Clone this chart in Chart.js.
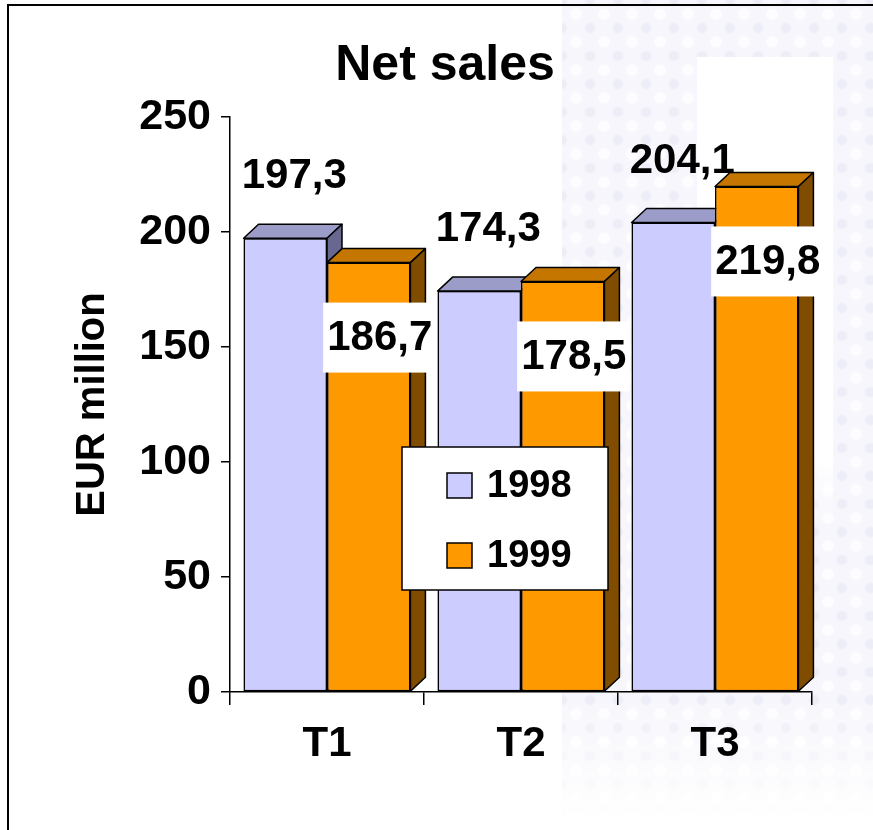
<!DOCTYPE html>
<html>
<head>
<meta charset="utf-8">
<script src="https://cdn.jsdelivr.net/npm/chart.js@4.4.1/dist/chart.umd.min.js"></script>
<style>
  html, body { margin: 0; padding: 0; background: #fff; }
  body { width: 873px; height: 830px; position: relative; overflow: hidden; }
  .pattern {
    position: absolute; left: 562px; top: 0; width: 320px; height: 820px;
    background-color: #f6f6fc;
    background-image: radial-gradient(circle, #fdfdff 0 5px, transparent 7px),
                      radial-gradient(circle, #ededf8 0 4px, transparent 6px);
    background-size: 28px 28px, 28px 28px;
    background-position: 0 0, 14px 14px;
    -webkit-mask-image: linear-gradient(to bottom, #000 0, #000 85%, transparent 100%);
    mask-image: linear-gradient(to bottom, #000 0, #000 85%, transparent 100%);
  }
  .hole {
    position: absolute; left: 697px; top: 57px; width: 136px; height: 470px;
    background: linear-gradient(to bottom, #fff 0, #fff 85%, rgba(255,255,255,0) 100%);
  }
  .frame {
    position: absolute; left: 7px; top: 4px; width: 900px; height: 900px;
    border-left: 2px solid #000; border-top: 2px solid #000;
  }
  canvas { position: absolute; left: 0; top: 0; }
</style>
</head>
<body>
<div class="pattern"></div>
<div class="hole"></div>
<div class="frame"></div>
<canvas id="chart" width="873" height="830"></canvas>
<script>
const categories = ["T1", "T2", "T3"];
const seriesNames = ["1998", "1999"];
const sales1998 = [197.3, 174.3, 204.1];
const sales1999 = [186.7, 178.5, 219.8];
const yTicks = [0, 50, 100, 150, 200, 250];

const FONT = "'Liberation Sans', Arial, sans-serif";
const faces = [
  { front: "#ccccff", top: "#9c9cc8", side: "#67678f" },
  { front: "#ff9900", top: "#c47600", side: "#7f4c00" },
];
const DX = 15, DY = 14;

function fmt(v) {
  return v.toFixed(1).replace(".", ",");
}

function poly(ctx, pts, fill) {
  ctx.beginPath();
  ctx.moveTo(pts[0][0], pts[0][1]);
  for (let i = 1; i < pts.length; i++) ctx.lineTo(pts[i][0], pts[i][1]);
  ctx.closePath();
  ctx.fillStyle = fill;
  ctx.fill();
  ctx.stroke();
}

// redraw bars back to front with top and side faces for the 3D look
const bars3d = {
  id: "bars3d",
  afterDatasetsDraw(chart) {
    const ctx = chart.ctx;
    [0, 1].forEach((di) => {
      const face = faces[di];
      chart.getDatasetMeta(di).data.forEach((bar) => {
        bar.draw(ctx);
        const l = bar.x - bar.width / 2;
        const r = bar.x + bar.width / 2;
        const t = bar.y;
        const b = bar.base;
        ctx.save();
        ctx.lineWidth = 1.5;
        ctx.strokeStyle = "#000";
        ctx.lineJoin = "round";
        poly(ctx, [[l, t], [l + DX, t - DY], [r + DX, t - DY], [r, t]], face.top);
        poly(ctx, [[r, t], [r + DX, t - DY], [r + DX, b - DY], [r, b]], face.side);
        ctx.restore();
      });
    });
  },
  afterDraw(chart) {
    const ctx = chart.ctx;
    ctx.save();
    ctx.fillStyle = "#000";

    ctx.font = "bold 50px " + FONT;
    ctx.textAlign = "center";
    ctx.textBaseline = "middle";
    ctx.fillText("Net sales", 445, 66);

    ctx.font = "bold 42px " + FONT;
    ctx.textBaseline = "alphabetic";

    // 1998 labels above the bars
    chart.getDatasetMeta(0).data.forEach((bar, i) => {
      ctx.fillText(fmt(sales1998[i]), bar.x + 9, bar.y - DY - 36);
    });

    // 1999 labels in white boxes
    chart.getDatasetMeta(1).data.forEach((bar, i) => {
      const txt = fmt(sales1999[i]);
      const w = ctx.measureText(txt).width + 8;
      const cx = bar.x + 11;
      const top = bar.y + 40;
      ctx.fillStyle = "#fff";
      ctx.fillRect(cx - w / 2, top, w, 70);
      ctx.fillStyle = "#000";
      ctx.textBaseline = "middle";
      ctx.fillText(txt, cx, top + 36);
      ctx.textBaseline = "alphabetic";
    });

    // legend box
    const lx = 402, ly = 447, lw = 206, lh = 143;
    ctx.fillStyle = "#fff";
    ctx.fillRect(lx, ly, lw, lh);
    ctx.lineWidth = 1.5;
    ctx.strokeStyle = "#000";
    ctx.strokeRect(lx, ly, lw, lh);
    ctx.font = "bold 38px " + FONT;
    ctx.textAlign = "left";
    ctx.textBaseline = "middle";
    seriesNames.forEach((name, i) => {
      const y = ly + 38 + i * 70;
      ctx.fillStyle = faces[i].front;
      ctx.fillRect(lx + 45, y - 12, 25, 25);
      ctx.strokeRect(lx + 45, y - 12, 25, 25);
      ctx.fillStyle = "#000";
      ctx.fillText(name, lx + 85, y + 2);
    });
    ctx.restore();
  },
};

new Chart(document.getElementById("chart"), {
  type: "bar",
  data: {
    labels: categories,
    datasets: [
      {
        label: seriesNames[0],
        data: sales1998,
        backgroundColor: faces[0].front,
        borderColor: "#000",
        borderWidth: 1.5,
        borderSkipped: false,
      },
      {
        label: seriesNames[1],
        data: sales1999,
        backgroundColor: faces[1].front,
        borderColor: "#000",
        borderWidth: 1.5,
        borderSkipped: false,
      },
    ],
  },
  options: {
    responsive: false,
    animation: false,
    layout: { padding: { top: 117, right: 61, bottom: 0, left: 0 } },
    categoryPercentage: 0.86,
    barPercentage: 1,
    plugins: {
      legend: { display: false },
      tooltip: { enabled: false },
    },
    scales: {
      x: {
        grid: {
          drawOnChartArea: false,
          offset: true,
          tickLength: 13,
          color: "#000",
          lineWidth: 1.5,
        },
        border: { color: "#000", width: 1.5 },
        ticks: {
          color: "#000",
          padding: 14,
          font: { family: FONT, size: 42, weight: "bold" },
        },
        afterFit(scale) {
          scale.height = 138;
        },
      },
      y: {
        min: 0,
        max: 250,
        afterBuildTicks(scale) {
          scale.ticks = yTicks.map((v) => ({ value: v }));
        },
        grid: {
          drawOnChartArea: false,
          tickLength: 9,
          color: "#000",
          lineWidth: 1.5,
        },
        border: { color: "#000", width: 1.5 },
        ticks: {
          color: "#000",
          padding: 10,
          font: { family: FONT, size: 43, weight: "bold" },
        },
        title: {
          display: true,
          text: "EUR million",
          color: "#000",
          font: { family: FONT, size: 40, weight: "bold" },
          padding: { top: 69, bottom: 0 },
        },
        afterFit(scale) {
          scale.width = 230;
        },
      },
    },
  },
  plugins: [bars3d],
});
</script>
</body>
</html>
